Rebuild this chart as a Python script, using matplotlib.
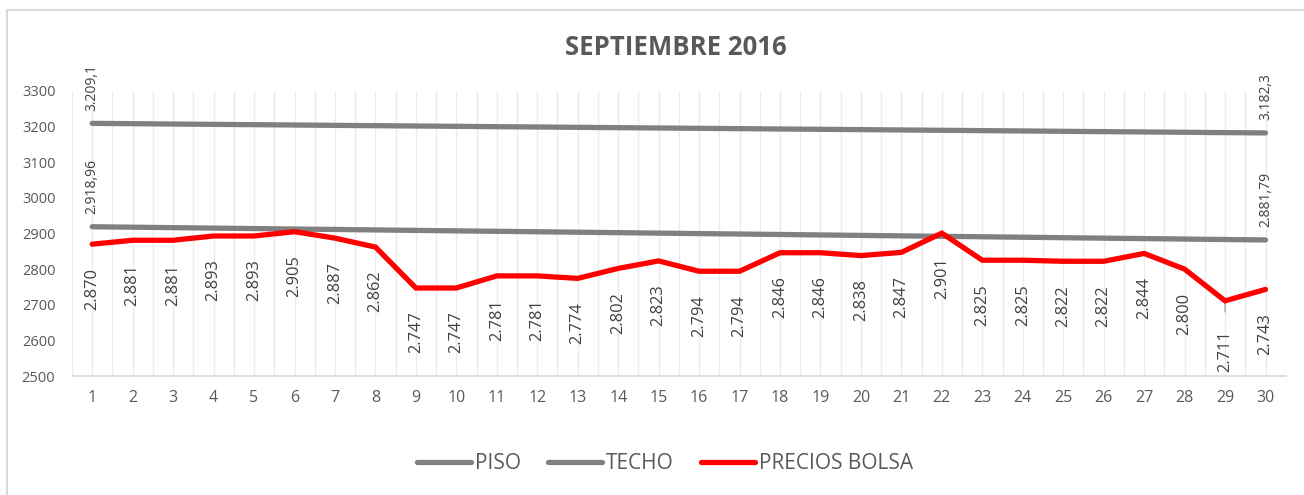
import matplotlib
matplotlib.use("Agg")
from matplotlib import pyplot as plt
from matplotlib.patches import Rectangle

plt.rcParams['font.family'] = ['Open Sans', 'DejaVu Sans']

dias = list(range(1, 31))

piso = [2918.96, 2917.7, 2916.4, 2915.1, 2913.8, 2912.5, 2911.3, 2910.0, 2908.7, 2907.4,
        2906.1, 2904.9, 2903.6, 2902.3, 2901.0, 2899.7, 2898.5, 2897.2, 2895.9, 2894.6,
        2893.3, 2892.1, 2890.8, 2889.5, 2888.2, 2886.9, 2885.7, 2884.4, 2883.1, 2881.79]

techo = [3209.1, 3208.2, 3207.2, 3206.3, 3205.4, 3204.5, 3203.5, 3202.6, 3201.7, 3200.8,
         3199.8, 3198.9, 3198.0, 3197.0, 3196.1, 3195.2, 3194.3, 3193.3, 3192.4, 3191.5,
         3190.6, 3189.6, 3188.7, 3187.8, 3186.8, 3185.9, 3185.0, 3184.1, 3183.1, 3182.3]

bolsa = [2870, 2881, 2881, 2893, 2893, 2905, 2887, 2862, 2747, 2747,
         2781, 2781, 2774, 2802, 2823, 2794, 2794, 2846, 2846, 2838,
         2847, 2901, 2825, 2825, 2822, 2822, 2844, 2800, 2711, 2743]

piso_labels = ["2.918,96", "2.881,79"]
techo_labels = ["3.209,1", "3.182,3"]

gris = '#808080'
rojo = '#FF0000'
texto = '#404040'

fig = plt.figure(figsize=(13.04, 4.95), dpi=100)
ax = fig.add_axes([0.0552, 0.2404, 0.9308, 0.5758])

# marco exterior (solo se ven el borde izquierdo y el superior)
fig.patches.append(Rectangle((7 / 1304, -0.05), 1.1, (485 / 495) + 0.05,
                             transform=fig.transFigure, fill=False,
                             edgecolor='#D9D9D9', lw=1.5))

ax.plot(dias, piso, color=gris, lw=3.8, solid_capstyle='round', label='PISO', zorder=3)
ax.plot(dias, techo, color=gris, lw=3.8, solid_capstyle='round', label='TECHO', zorder=3)
ax.plot(dias, bolsa, color=rojo, lw=3.8, solid_capstyle='round', solid_joinstyle='miter',
        label='PRECIOS BOLSA', zorder=4)

# etiquetas de la serie roja
for d, v in zip(dias, bolsa):
    s = f"{v/1000:.3f}"
    off = -17
    if d == 29:
        off = -21
        ax.annotate('', xy=(d, v), xytext=(0, -10), textcoords='offset points',
                    arrowprops=dict(arrowstyle='-', color='#A6A6A6', lw=1))
    ax.annotate(s, (d, v), xytext=(0, off), textcoords='offset points',
                rotation=90, ha='center', va='top', fontsize=11.8, color=texto)

# etiquetas extremos piso / techo
for serie, labs in ((piso, piso_labels), (techo, techo_labels)):
    for idx, lab in zip((0, -1), labs):
        ax.annotate(lab, (dias[idx], serie[idx]), xytext=(0, 9), textcoords='offset points',
                    rotation=90, ha='center', va='bottom', fontsize=10, color=texto)

ax.set_xlim(0.5, 30.5)
ax.set_ylim(2500, 3300)
ax.set_yticks(range(2500, 3301, 100))
ax.set_xticks(dias)
ax.set_xticks([d + 0.5 for d in range(0, 31)], minor=True)
ax.grid(axis='x', which='both', color='#EBEBEB', lw=1, zorder=0)
ax.tick_params(axis='both', which='both', length=0, labelsize=10.5, colors='#595959')
ax.tick_params(axis='x', labelsize=11.5, pad=10)
ax.tick_params(axis='y', pad=12)
for sp in ('top', 'right', 'left'):
    ax.spines[sp].set_visible(False)
ax.spines['bottom'].set_color('#D9D9D9')
ax.spines['bottom'].set_linewidth(1.2)

fig.text(0.5185, 0.905, 'SEPTIEMBRE 2016', ha='center', va='center', fontsize=18.5,
         fontweight='bold', color='#595959')

leg = fig.legend(loc='center', bbox_to_anchor=(0.51, 0.064), ncol=3, frameon=False,
                 fontsize=15, handlelength=2.6, handletextpad=0.2, columnspacing=1.3)
for t in leg.get_texts():
    t.set_color('#595959')

fig.savefig('out.png', dpi=100)
